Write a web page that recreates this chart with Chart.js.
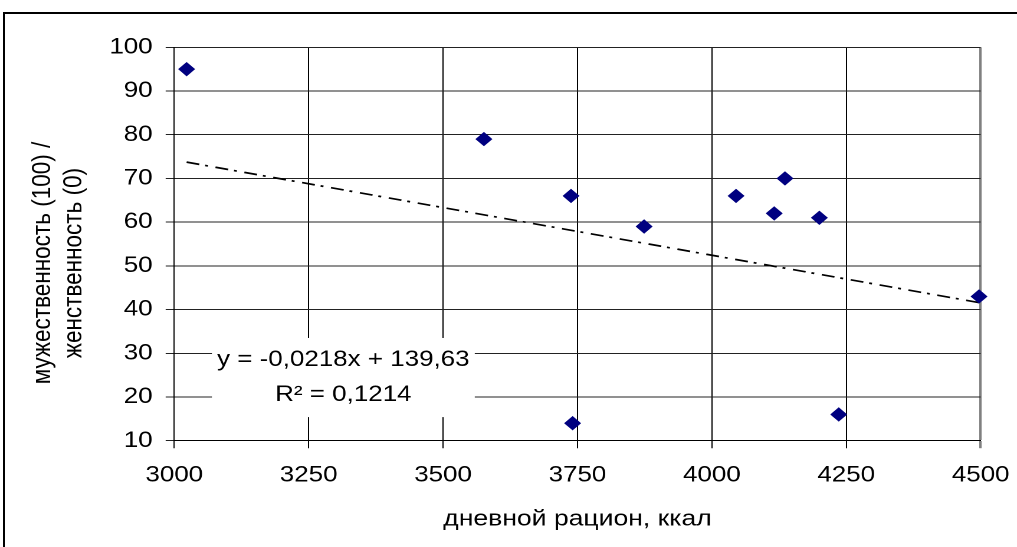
<!DOCTYPE html>
<html>
<head>
<meta charset="utf-8">
<script src="https://cdn.jsdelivr.net/npm/chart.js@4/dist/chart.umd.min.js"></script>
<style>
  html, body { margin: 0; padding: 0; background: #fff; overflow: hidden; }
  /* the chart is laid out narrower and stretched horizontally, like the source sheet */
  #wrap {
    position: absolute; left: 0; top: 0;
    width: 862px; height: 547px;
    transform: scaleX(1.1798); transform-origin: 0 0;
  }
  /* outer chart frame; its right and bottom edges run past the page */
  #frame {
    position: absolute; left: 3px; top: 12px;
    width: 1100px; height: 700px;
    border-left: 2px solid #000; border-top: 2px solid #000;
    pointer-events: none;
  }
</style>
</head>
<body>
<div id="wrap"><canvas id="c"></canvas></div>
<div id="frame"></div>
<script>
// daily ration (kcal) vs masculinity(100)/femininity(0) score
const calories    = [3023, 3576, 3738, 3741, 3874, 4045, 4116, 4136, 4200, 4236, 4497];
const masculinity = [95, 79, 66, 14, 59, 66, 62, 70, 61, 16, 43];

// linear trend reported on the chart
const trendSlope = -0.0218;
const trendIntercept = 139.63;
const rSquared = 0.1214;

// axis ticks
const xTickValues = [3000, 3250, 3500, 3750, 4000, 4250, 4500];
const yTickValues = [10, 20, 30, 40, 50, 60, 70, 80, 90, 100];

const xTitle = 'дневной рацион, ккал';
const yTitle = ['мужественность (100) /', 'женственность (0)'];

const comma = v => String(v).replace('.', ',');
const eqLines = [
  'y = ' + comma(trendSlope) + 'x + ' + comma(trendIntercept),
  'R\u00B2 = ' + comma(rSquared)
];

const points = calories.map((c, i) => ({ x: c, y: masculinity[i] }));
const xFirst = Math.min(...calories), xLast = Math.max(...calories);
const trend = [xFirst, xLast].map(v => ({ x: v, y: trendSlope * v + trendIntercept }));

const FONT = '"Liberation Sans", Arial, sans-serif';
Chart.defaults.font.family = FONT;
Chart.defaults.color = '#000';

// rotated y title and the regression label on a white box
const decorations = {
  id: 'decorations',
  beforeDatasetsDraw(chart, args, opts) {
    const { ctx, scales: { x, y } } = chart;
    const [dx0, dx1, dy0, dy1] = opts.box;
    const px0 = x.getPixelForValue(dx0), px1 = x.getPixelForValue(dx1);
    const py0 = y.getPixelForValue(dy1), py1 = y.getPixelForValue(dy0);
    ctx.save();
    ctx.fillStyle = '#fff';
    ctx.fillRect(px0, py0, px1 - px0, py1 - py0);
    ctx.fillStyle = '#000';
    ctx.font = opts.fontSize + 'px ' + FONT;
    ctx.textAlign = 'center';
    ctx.textBaseline = 'middle';
    const cx = (px0 + px1) / 2, cy = (py0 + py1) / 2;
    eqLines.forEach((t, i) => {
      ctx.fillText(t, cx, cy + (i - (eqLines.length - 1) / 2) * opts.lineGap);
    });
    ctx.restore();
  },
  afterDraw(chart, args, opts) {
    const { ctx } = chart;
    ctx.save();
    ctx.fillStyle = '#000';
    ctx.font = opts.yTitleSize + 'px ' + FONT;
    ctx.textAlign = 'center';
    ctx.textBaseline = 'middle';
    yTitle.forEach((t, i) => {
      ctx.save();
      ctx.translate(opts.yTitleX + i * opts.yTitleGap, opts.yTitleY);
      ctx.rotate(-Math.PI / 2);
      ctx.fillText(t, 0, 0);
      ctx.restore();
    });
    ctx.restore();
  }
};

new Chart(document.getElementById('c'), {
  type: 'scatter',
  data: {
    datasets: [
      {
        label: 'points',
        data: points,
        pointStyle: 'rectRot',
        pointRadius: 6.5,
        pointBorderWidth: 1,
        backgroundColor: '#000080',
        borderColor: '#000080',
        clip: false,
        order: 1
      },
      {
        type: 'line',
        label: 'trend',
        data: trend,
        borderColor: '#000',
        borderWidth: 1.7,
        borderDash: [11, 5, 2.5, 6.5],
        pointRadius: 0,
        fill: false,
        order: 2
      }
    ]
  },
  options: {
    responsive: true,
    maintainAspectRatio: false,
    devicePixelRatio: 2,
    animation: false,
    events: [],
    layout: { padding: { left: 0, right: 30.8, top: 47.3, bottom: 0 } },
    plugins: {
      legend: { display: false },
      tooltip: { enabled: false },
      decorations: {
        box: [3070, 3559, 15.4, 33.5],
        fontSize: 22,
        lineGap: 35,
        yTitleSize: 22.5,
        yTitleX: 36.5,
        yTitleGap: 26.3,
        yTitleY: 263
      }
    },
    scales: {
      x: {
        type: 'linear',
        min: 3000, max: 4500,
        afterBuildTicks: s => { s.ticks = xTickValues.map(v => ({ value: v })); },
        afterFit: s => { s.height = 106.3; s.paddingLeft = 0; s.paddingRight = 0; },
        ticks: {
          font: { size: 22 },
          padding: 14,
          maxRotation: 0,
          autoSkip: false,
          callback: v => String(v)
        },
        grid: {
          color: c => (c.tick && c.tick.value === 4500) ? '#808080' : '#000',
          lineWidth: c => (c.tick && c.tick.value === 4500) ? 2 : 1,
          tickLength: 7.5,
          drawTicks: true
        },
        border: { display: true, color: '#000', width: 1 },
        title: {
          display: true,
          text: xTitle,
          font: { size: 22.5 },
          padding: { top: 0, bottom: 14 }
        }
      },
      y: {
        min: 10, max: 100,
        afterBuildTicks: s => { s.ticks = yTickValues.map(v => ({ value: v })); },
        afterFit: s => { s.width = 147.7; },
        ticks: {
          font: { size: 22 },
          padding: 11,
          callback: v => String(v)
        },
        grid: {
          color: '#222',
          lineWidth: 1,
          tickLength: 7.3,
          drawTicks: true
        },
        border: { display: true, color: '#000', width: 1 },
        title: { display: false }
      }
    }
  },
  plugins: [decorations]
});
</script>
</body>
</html>
